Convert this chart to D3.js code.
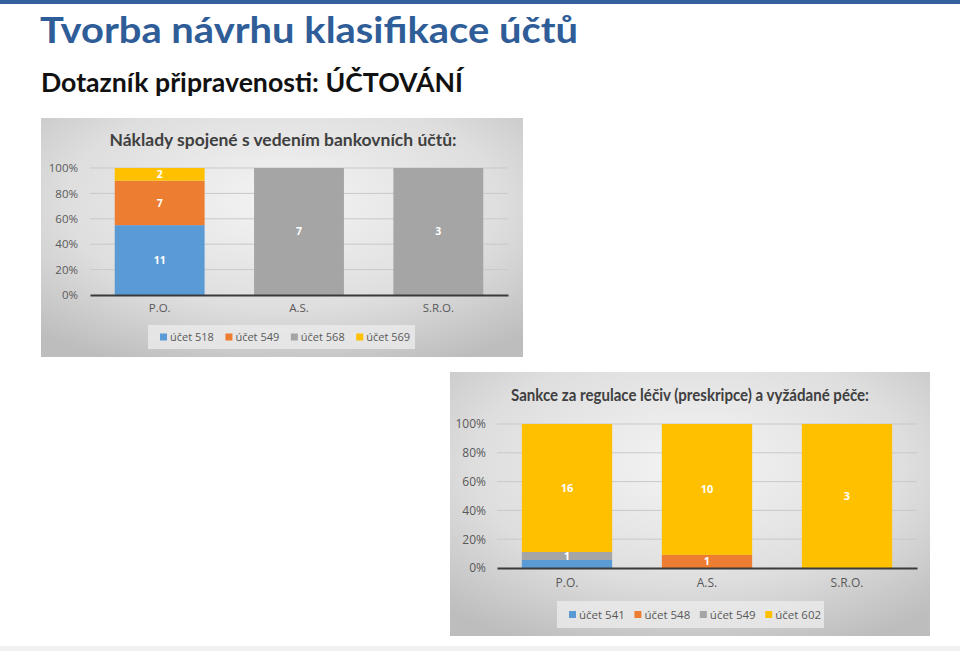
<!DOCTYPE html>
<html><head><meta charset="utf-8">
<script src="https://cdn.jsdelivr.net/npm/d3@7"></script>
<style>html,body{margin:0;padding:0;background:#fff;overflow:hidden}</style>
</head><body>
<svg id="s" width="960" height="651"></svg>
<script>
const categories = ["P.O.", "A.S.", "S.R.O."];
const yTicks = [0, 0.2, 0.4, 0.6, 0.8, 1.0];

const chart1Title = "Náklady spojené s vedením bankovních účtů:";
const chart1Series = ["účet 518", "účet 549", "účet 568", "účet 569"];
const chart1_518 = [11, 0, 0];
const chart1_549 = [7, 0, 0];
const chart1_568 = [0, 7, 3];
const chart1_569 = [2, 0, 0];

const chart2Title = "Sankce za regulace léčiv (preskripce) a vyžádané péče:";
const chart2Series = ["účet 541", "účet 548", "účet 549", "účet 602"];
const chart2_541 = [1, 0, 0];
const chart2_548 = [0, 1, 0];
const chart2_549 = [1, 0, 0];
const chart2_602 = [16, 10, 3];

const colors = ["#5b9bd5", "#ed7d31", "#a5a5a5", "#ffc000"];

const svg = d3.select("#s");
const defs = svg.append("defs");
const rg = defs.append("radialGradient").attr("id","bg").attr("cx","50%").attr("cy","35%").attr("r","75%");
rg.append("stop").attr("offset","0%").attr("stop-color","#f4f4f4");
rg.append("stop").attr("offset","60%").attr("stop-color","#dedede");
rg.append("stop").attr("offset","100%").attr("stop-color","#bdbdbd");

// header
svg.append("rect").attr("x",0).attr("y",0).attr("width",960).attr("height",4).attr("fill","#34609e");
svg.append("text").attr("x",40).attr("y",43).text("Tvorba návrhu klasifikace účtů")
  .attr("font-family","Lato, 'Open Sans', sans-serif").attr("font-weight","bold").attr("font-size",37)
  .attr("fill","#2f5d98").attr("textLength",538).attr("lengthAdjust","spacingAndGlyphs");
svg.append("text").attr("x",41).attr("y",92).text("Dotazník připravenosti: ÚČTOVÁNÍ")
  .attr("font-family","Lato, 'Open Sans', sans-serif").attr("font-weight","bold").attr("font-size",27)
  .attr("fill","#111").attr("textLength",422).attr("lengthAdjust","spacingAndGlyphs");
svg.append("rect").attr("x",0).attr("y",646).attr("width",960).attr("height",5).attr("fill","#f3f1ef");

function drawChart(cfg) {
  const g = svg.append("g");
  g.append("rect").attr("x",cfg.x0).attr("y",cfg.y0).attr("width",cfg.w).attr("height",cfg.h).attr("fill","url(#bg)");
  g.append("text").attr("x",cfg.titleX).attr("y",cfg.titleY).text(cfg.title)
    .attr("font-family","Lato, 'Open Sans', sans-serif").attr("font-weight","bold").attr("font-size",cfg.titleSize)
    .attr("fill","#404040").attr("text-anchor","middle")
    .attr("textLength",cfg.titleLen).attr("lengthAdjust","spacingAndGlyphs");

  const series = cfg.values;
  const rows = categories.map((c,i)=>{ const o={cat:c}; cfg.names.forEach((n,j)=>o[n]=series[j][i]); return o; });
  const stack = d3.stack().keys(cfg.names).offset(d3.stackOffsetExpand)(rows);

  const x = d3.scaleBand().domain(categories).range([cfg.px0, cfg.px1]).paddingInner(0.355).paddingOuter(0.1775);
  const y = d3.scaleLinear().domain([0,1]).range([cfg.py0, cfg.py1]);

  // gridlines
  g.append("g").selectAll("line").data(yTicks.slice(1)).join("line")
    .attr("x1",cfg.px0).attr("x2",cfg.px1).attr("y1",d=>y(d)).attr("y2",d=>y(d))
    .attr("stroke","#c9c9c9").attr("stroke-width",1);

  // y labels
  const yAxis = d3.axisLeft(y).tickValues(yTicks).tickFormat(d3.format(".0%")).tickSize(0).tickPadding(cfg.tickPad);
  const ya = g.append("g").attr("transform",`translate(${cfg.px0},0)`).call(yAxis);
  ya.select(".domain").remove();
  ya.selectAll("text").attr("font-family","'Open Sans', sans-serif").attr("font-size",cfg.fs).attr("fill","#595959");

  // bars
  stack.forEach((s,j)=>{
    g.append("g").selectAll("rect").data(s).join("rect")
      .attr("x",d=>x(d.data.cat)).attr("width",x.bandwidth())
      .attr("y",d=>y(d[1])).attr("height",d=>Math.max(0,y(d[0])-y(d[1])))
      .attr("fill",colors[j]);
  });
  // labels (top-down, skipping overlaps)
  categories.forEach((c,i)=>{
    let lastY = null;
    for (let j = stack.length-1; j>=0; j--) {
      const d = stack[j][i];
      const v = series[j][i];
      if (!v) continue;
      const cy = (y(d[0])+y(d[1]))/2;
      if (lastY !== null && Math.abs(cy-lastY) < cfg.fs) continue;
      lastY = cy;
      g.append("text").attr("x",x(c)+x.bandwidth()/2).attr("y",cy).attr("dy","0.35em")
        .attr("text-anchor","middle").attr("font-family","'Open Sans', sans-serif").attr("font-weight","bold")
        .attr("font-size",cfg.fs-1).attr("fill","#fff").text(v);
    }
  });

  // x axis
  const xa = g.append("g").attr("transform",`translate(0,${cfg.py0})`).call(d3.axisBottom(x).tickSize(0).tickPadding(cfg.xPad));
  xa.select(".domain").attr("stroke","#3a3a3a").attr("stroke-width",2);
  xa.selectAll("text").attr("font-family","'Open Sans', sans-serif").attr("font-size",cfg.fs).attr("fill","#595959");

  // legend
  const lg = g.append("g");
  lg.append("rect").attr("x",cfg.lx).attr("y",cfg.ly).attr("width",cfg.lw).attr("height",cfg.lh).attr("fill","#ebebeb").attr("opacity",0.8);
  const itemW = cfg.lw/4;
  cfg.names.forEach((n,j)=>{
    const ix = cfg.lx + 12 + j*itemW*0.98;
    const cy = cfg.ly + cfg.lh/2;
    lg.append("rect").attr("x",ix).attr("y",cy-3.5).attr("width",7).attr("height",7).attr("fill",colors[j]);
    lg.append("text").attr("x",ix+10).attr("y",cy).attr("dy","0.35em").text(n)
      .attr("font-family","'Open Sans', sans-serif").attr("font-size",cfg.lfs).attr("fill","#595959");
  });
}

drawChart({x0:41,y0:118,w:482,h:239,title:chart1Title,titleX:283,titleY:146,titleSize:17,titleLen:347,
  names:chart1Series, values:[chart1_518,chart1_549,chart1_568,chart1_569],
  px0:90,px1:508,py0:295,py1:168,fs:11.5,lfs:11,tickPad:12,xPad:9,lx:148,ly:325,lw:267,lh:24});

drawChart({x0:450,y0:372,w:480,h:264,title:chart2Title,titleX:690,titleY:401,titleSize:17,titleLen:358,
  names:chart2Series, values:[chart2_541,chart2_548,chart2_549,chart2_602],
  px0:497,px1:917,py0:568,py1:424,fs:12,lfs:11.5,tickPad:11,xPad:10,lx:557,ly:601,lw:267,lh:27});
</script>
</body></html>
